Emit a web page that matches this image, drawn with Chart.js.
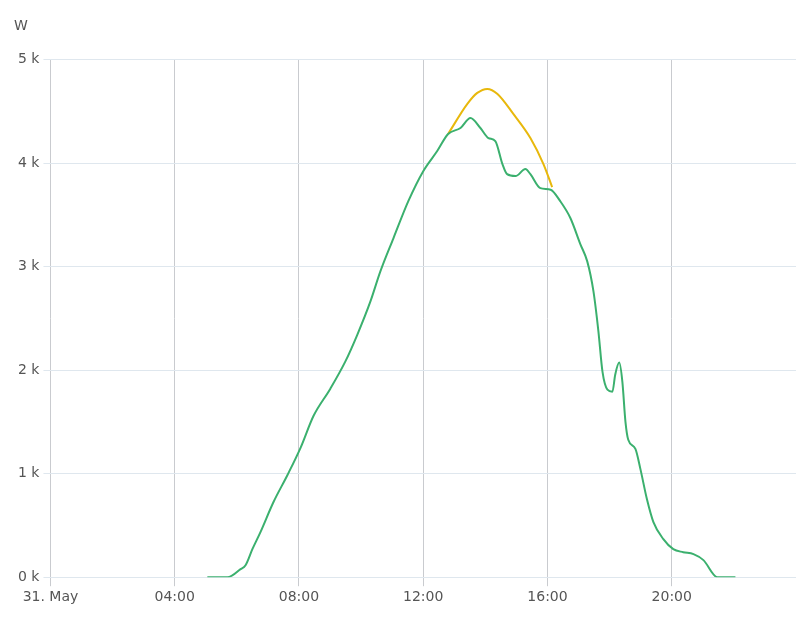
<!DOCTYPE html>
<html>
<head>
<meta charset="utf-8">
<script src="https://cdn.jsdelivr.net/npm/chart.js@4/dist/chart.umd.min.js"></script>
<style>
html,body{margin:0;padding:0;background:#fff;}
#wrap{width:800px;height:621px;position:relative;}
</style>
</head>
<body>
<div id="wrap"><canvas id="c" width="800" height="621"></canvas></div>
<script>
// Hours of day (31 May) and power in W
const greenHours = [5.05,5.7,6.12,6.28,6.5,6.76,7.18,7.63,8.05,8.47,9.01,9.49,9.88,10.3,10.62,11.04,11.52,12.0,12.45,12.8,13.2,13.52,13.84,14.1,14.32,14.55,14.7,14.97,15.29,15.45,15.77,16.1,16.41,16.74,17.06,17.28,17.48,17.64,17.77,17.93,18.09,18.18,18.31,18.41,18.51,18.6,18.83,18.99,19.2,19.41,19.73,20.05,20.37,20.7,21.02,21.47,22.05];
const greenWatts = [0,0,78,116,271,436,727,988,1250,1560,1822,2083,2345,2665,2955,3275,3634,3924,4118,4283,4341,4438,4341,4244,4215,3992,3895,3876,3944,3895,3760,3745,3634,3469,3217,3052,2762,2374,1986,1812,1793,1957,2074,1890,1502,1328,1240,1047,756,533,368,271,242,223,165,0,0];
const yellowHours = [12.8,13.42,13.74,14.06,14.39,14.9,15.45,15.87,16.15];
const yellowWatts = [4283,4574,4680,4719,4670,4477,4244,3992,3770];
const xTickValues = [0,4,8,12,16,20];
const xTickLabels = ['31. May','04:00','08:00','12:00','16:00','20:00'];
const yTickValues = [0,1000,2000,3000,4000,5000];
const yTickLabels = ['0 k','1 k','2 k','3 k','4 k','5 k'];
const unitLabel = 'W';

const toPts = (xs, ys) => xs.map((x, i) => ({x: x, y: ys[i]}));
const font = {family: 'DejaVu Sans', size: 14};

new Chart(document.getElementById('c'), {
  type: 'line',
  data: {
    datasets: [
      {data: toPts(greenHours, greenWatts), borderColor: '#3bb06e', borderWidth: 2, pointRadius: 0, cubicInterpolationMode: 'monotone', fill: false},
      {data: toPts(yellowHours, yellowWatts), borderColor: '#e8b80c', borderWidth: 2, pointRadius: 0, cubicInterpolationMode: 'monotone', fill: false}
    ]
  },
  options: {
    responsive: false,
    animation: false,
    events: [],
    layout: {padding: {left: 14, right: 4, top: 0, bottom: 12}},
    plugins: {
      legend: {display: false},
      tooltip: {enabled: false},
      title: {display: true, text: unitLabel, align: 'start', color: '#555', font: {family: 'DejaVu Sans', size: 14, weight: 'normal'}, padding: {top: 18, bottom: 25}}
    },
    scales: {
      x: {
        type: 'linear', min: 0, max: 24,
        afterBuildTicks: s => { s.ticks = xTickValues.map(v => ({value: v})); },
        ticks: {color: '#555', font: font, maxRotation: 0, padding: 3,
          callback: (v) => xTickLabels[xTickValues.indexOf(v)]},
        grid: {color: '#c9cbcf', lineWidth: 1, tickLength: 9, drawTicks: true},
        border: {display: false}
      },
      y: {
        min: 0, max: 5000,
        afterBuildTicks: s => { s.ticks = yTickValues.map(v => ({value: v})); },
        ticks: {color: '#555', font: font, padding: 4,
          callback: (v) => yTickLabels[yTickValues.indexOf(v)]},
        grid: {color: '#dfe7ee', lineWidth: 1, tickLength: 7, drawTicks: true},
        border: {display: false}
      }
    }
  }
});
</script>
</body>
</html>
